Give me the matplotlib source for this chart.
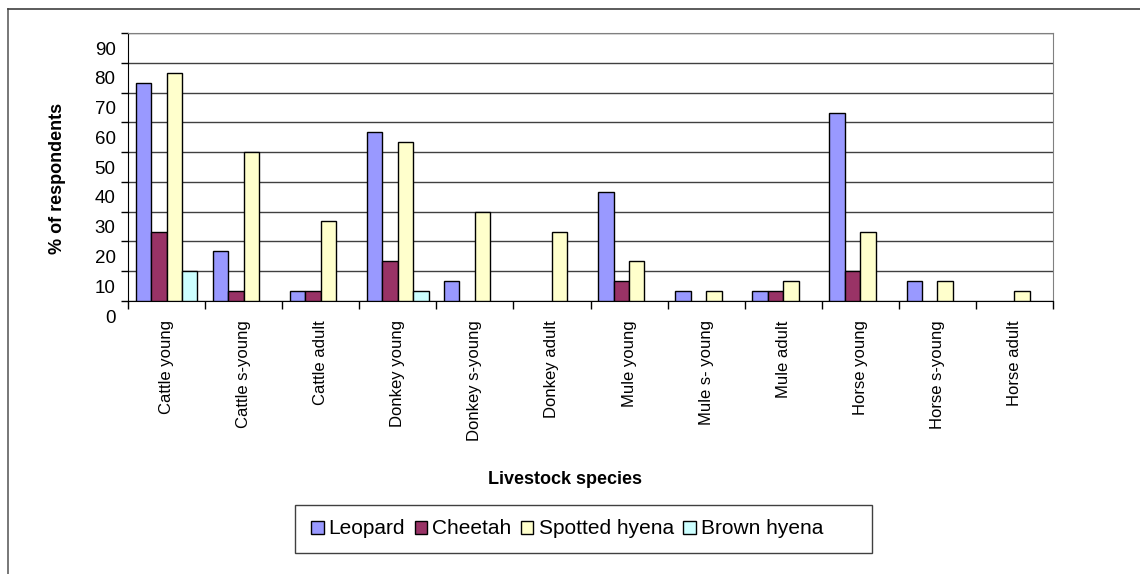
import numpy as np
import matplotlib
matplotlib.use("Agg")
from matplotlib import pyplot as plt
from matplotlib import transforms
from matplotlib.lines import Line2D
from matplotlib.patches import Rectangle

plt.rcParams['font.family'] = ['Liberation Sans', 'DejaVu Sans']

categories = ['Cattle young', 'Cattle s-young', 'Cattle adult', 'Donkey young',
              'Donkey s-young', 'Donkey adult', 'Mule young', 'Mule s- young',
              'Mule adult', 'Horse young', 'Horse s-young', 'Horse adult']
leopard = [73.3, 16.7, 3.3, 56.7, 6.7, 0, 36.7, 3.3, 3.3, 63.3, 6.7, 0]
cheetah = [23.3, 3.3, 3.3, 13.3, 0, 0, 6.7, 0, 3.3, 10, 0, 0]
spotted_hyena = [76.7, 50, 26.7, 53.3, 30, 23.3, 13.3, 3.3, 6.7, 23.3, 6.7, 3.3]
brown_hyena = [10, 0, 0, 3.3, 0, 0, 0, 0, 0, 0, 0, 0]
series_names = ['Leopard', 'Cheetah', 'Spotted hyena', 'Brown hyena']
colors = ['#9999FF', '#993366', '#FFFFCC', '#CCFFFF']
y_ticks = list(range(0, 100, 10))

fig = plt.figure(figsize=(11.4, 5.74), dpi=100)
ax = fig.add_axes([0.1123, 0.4756, 0.8114, 0.4669])

x = np.arange(len(categories))
width = 0.2
series = [leopard, cheetah, spotted_hyena, brown_hyena]
bars = []
for i, (vals, name, col) in enumerate(zip(series, series_names, colors)):
    b = ax.bar(x - 0.3 + i * width, vals, width, color=col, edgecolor='black',
               linewidth=1.0, label=name, zorder=3)
    # empty bars are not drawn at all
    for patch, v in zip(b.patches, vals):
        if v == 0:
            patch.set_visible(False)
    bars.append(b)

ax.set_xlim(-0.5, len(categories) - 0.5)
ax.set_ylim(0, 90)
ax.set_yticks(y_ticks)
ax.set_yticklabels([str(v) for v in y_ticks], fontsize=13.5)
ax.yaxis.grid(True, color='#404040', linewidth=1.0, zorder=0)
ax.tick_params(axis='y', direction='out', length=5, width=1, pad=4)

# y tick labels sit half a step lower than the gridlines
offset = transforms.ScaledTranslation(0, -15 / 100, fig.dpi_scale_trans)
for lab in ax.get_yticklabels():
    lab.set_transform(lab.get_transform() + offset)

# x ticks at category boundaries, labels centred
ax.set_xticks(np.arange(len(categories) + 1) - 0.5)
ax.set_xticklabels([])
ax.set_xticks(x, minor=True)
ax.set_xticklabels(categories, minor=True, rotation=90, fontsize=12, va='top')
ax.tick_params(axis='x', which='major', direction='out', length=6, width=1)
ax.tick_params(axis='x', which='minor', length=0, pad=14)

ax.spines['top'].set_color('#808080')
ax.spines['right'].set_color('#808080')
ax.spines['left'].set_color('black')
ax.spines['bottom'].set_color('black')

fig.text(57 / 1140, 1 - 178 / 574, '% of respondents', rotation=90, fontsize=13,
         fontweight='bold', ha='center', va='center')
fig.text(565 / 1140, 1 - 480 / 574, 'Livestock species', fontsize=13,
         fontweight='bold', ha='center', va='center')

leg = fig.legend(handles=bars, labels=series_names, ncol=4,
                 loc='center left', bbox_to_anchor=(311 / 1140, 1 - 529 / 574),
                 fontsize=15, frameon=False,
                 handlelength=0.6, handleheight=0.6, handletextpad=0.25,
                 columnspacing=0.45, borderpad=0, borderaxespad=0)

# legend frame, drawn by hand because Excel leaves extra room on the right
fig.add_artist(Rectangle((295 / 1140, 1 - 553 / 574), (872 - 295) / 1140, 48 / 574,
                         transform=fig.transFigure, fill=False,
                         edgecolor='#404040', linewidth=1.0))

# outer chart border (left and top visible)
fig.add_artist(Line2D([8 / 1140, 8 / 1140], [0, 1 - 9 / 574], transform=fig.transFigure,
                      color='#606060', linewidth=1.2))
fig.add_artist(Line2D([8 / 1140, 1], [1 - 9 / 574, 1 - 9 / 574], transform=fig.transFigure,
                      color='#404040', linewidth=1.2))

fig.savefig('out.png', dpi=100)
